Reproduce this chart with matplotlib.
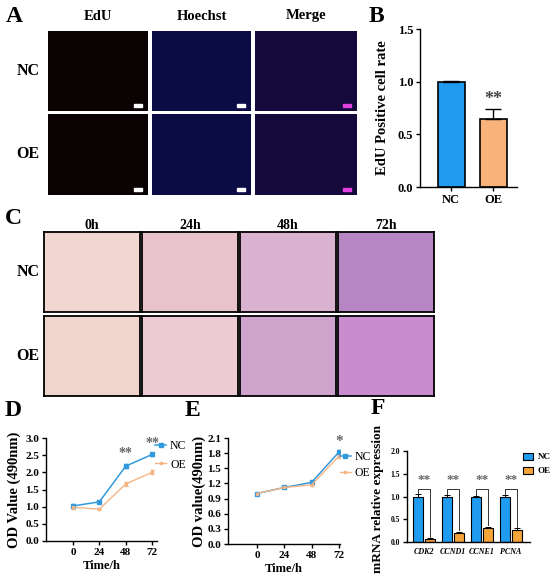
import matplotlib
matplotlib.use("Agg")
import matplotlib.pyplot as plt
from matplotlib.lines import Line2D

plt.rcParams['font.family'] = ['Liberation Serif', 'DejaVu Serif']
plt.rcParams['font.weight'] = 'bold'

W, H = 550, 578

# ---- data ----
edu_groups = ["NC", "OE"]
edu_rate = [1.0, 0.65]
edu_err = [0.01, 0.09]

time_h = [0, 24, 48, 72]
od_d_nc = [1.02, 1.14, 2.18, 2.52]
od_d_nc_err = [0.06, 0.02, 0.06, 0.04]
od_d_oe = [0.98, 0.93, 1.66, 2.00]
od_d_oe_err = [0.05, 0.02, 0.06, 0.06]

od_e_nc = [1.00, 1.12, 1.22, 1.82]
od_e_nc_err = [0.01, 0.02, 0.03, 0.04]
od_e_oe = [1.00, 1.12, 1.17, 1.74]
od_e_oe_err = [0.01, 0.02, 0.03, 0.03]

genes = ["CDK2", "CCND1", "CCNE1", "PCNA"]
mrna_nc = [1.0, 1.0, 1.0, 1.0]
mrna_nc_err = [0.06, 0.04, 0.02, 0.04]
mrna_oe = [0.07, 0.20, 0.31, 0.27]
mrna_oe_err = [0.01, 0.02, 0.03, 0.03]

stain_cols = ["EdU", "Hoechst", "Merge"]
stain_colors = ["#0b0303", "#0c0c45", "#160a3c"]
stain_bar = ["white", "white", "#e040e0"]
crystal_cols = ["0h", "24h", "48h", "72h"]
crystal_colors = [["#f1d6d2", "#e8c3cc", "#d9b2cf", "#b686c4"],
                  ["#f0d5cf", "#ecccd2", "#cfa4cc", "#c88ccf"]]

BLUE = "#1f9bef"
PEACH = "#f9b27a"
ORANGE = "#f5a43a"
LBLUE = "#3399dd"
LORANGE = "#f6b585"


def px_axes(fig, x0, y0, x1, y1):
    # pixel box (top-left origin) -> figure axes
    return fig.add_axes([x0 / W, 1 - y1 / H, (x1 - x0) / W, (y1 - y0) / H])


def ftext(fig, x, y, s, **kw):
    fig.text(x / W, 1 - y / H, s, ha='center', va='center', **kw)


def style_axes(ax, fs):
    for s in ['top', 'right']:
        ax.spines[s].set_visible(False)
    for s in ['left', 'bottom']:
        ax.spines[s].set_linewidth(1.0)
    ax.tick_params(labelsize=fs, width=1.0, length=3, pad=2)
    for lab in ax.get_xticklabels() + ax.get_yticklabels():
        lab.set_fontweight('bold')


def line_legend(ax, anchor, spacing):
    handles = [Line2D([], [], color=LBLUE, marker='s', markersize=2.5, lw=1.1),
               Line2D([], [], color=LORANGE, marker='s', markersize=2, lw=1.0)]
    leg = ax.legend(handles, edu_groups, loc='upper left', bbox_to_anchor=anchor,
                    frameon=False, fontsize=8.5, handlelength=0.9, handletextpad=0.35,
                    labelspacing=spacing, borderaxespad=0, borderpad=0)
    for t in leg.get_texts():
        t.set_fontweight('normal')


fig = plt.figure(figsize=(W / 100, H / 100), dpi=100)

# ---- A ----
ftext(fig, 14, 16, "A", fontsize=17)
col_x = [(48, 148), (152, 251), (255, 357)]
row_y = [(31, 111), (114, 195)]
for j, (x0, x1) in enumerate(col_x):
    ftext(fig, (x0 + x1) / 2, 16, stain_cols[j], fontsize=10.5)
    for i, (y0, y1) in enumerate(row_y):
        ax = px_axes(fig, x0, y0, x1, y1)
        ax.set_facecolor(stain_colors[j])
        ax.set_xticks([]); ax.set_yticks([])
        for s in ax.spines.values():
            s.set_visible(False)
        ax.add_patch(plt.Rectangle((0.86, 0.05), 0.08, 0.04, transform=ax.transAxes,
                                   color=stain_bar[j]))
for i, (y0, y1) in enumerate(row_y):
    ftext(fig, 28, (y0 + y1) / 2, edu_groups[i], fontsize=11.5)

# ---- B ----
ftext(fig, 376, 16, "B", fontsize=17)
axb = px_axes(fig, 420, 29, 517, 187)
axb.bar([0, 1], edu_rate, width=0.64, color=[BLUE, PEACH], edgecolor='black', linewidth=1.2)
axb.errorbar([0, 1], edu_rate, yerr=[[0, 0], edu_err], fmt='none', ecolor='black',
             elinewidth=1.0, capsize=6, capthick=1.0)
axb.text(1, 0.75, "**", ha='center', va='bottom', fontsize=13, color='#444444')
axb.set_xlim(-0.74, 1.57)
axb.set_ylim(0, 1.5)
axb.set_yticks([0.0, 0.5, 1.0, 1.5])
axb.set_yticklabels(["0.0", "0.5", "1.0", "1.5"])
axb.set_xticks([0, 1])
axb.set_xticklabels(edu_groups)
axb.tick_params(axis='x', length=0, pad=5)
style_axes(axb, 9)
axb.set_ylabel("EdU Positive cell rate", fontsize=10.5, fontweight='bold', labelpad=6)

# ---- C ----
ftext(fig, 13, 218, "C", fontsize=17)
c_cols = [(44, 140), (142, 238), (240, 336), (338, 434)]
c_rows = [(232, 312), (316, 396)]
for j, (x0, x1) in enumerate(c_cols):
    ftext(fig, (x0 + x1) / 2, 225, crystal_cols[j], fontsize=10)
    for i, (y0, y1) in enumerate(c_rows):
        ax = px_axes(fig, x0, y0, x1, y1)
        ax.set_facecolor(crystal_colors[i][j])
        ax.set_xticks([]); ax.set_yticks([])
        for s in ax.spines.values():
            s.set_linewidth(1.3)
for i, (y0, y1) in enumerate(c_rows):
    ftext(fig, 28, (y0 + y1) / 2, edu_groups[i], fontsize=11.5)

# ---- D ----
ftext(fig, 13, 411, "D", fontsize=17)
axd = px_axes(fig, 46, 438, 157, 541)
axd.errorbar(time_h, od_d_nc, yerr=od_d_nc_err, color=LBLUE, marker='s', markersize=2.5,
             lw=1.1, capsize=1.5, elinewidth=0.8)
axd.errorbar(time_h, od_d_oe, yerr=od_d_oe_err, color=LORANGE, marker='s', markersize=2,
             lw=1.0, capsize=1.5, elinewidth=0.8)
axd.text(48, 2.36, "**", ha='center', va='bottom', fontsize=10, color='#666666')
axd.text(72, 2.64, "**", ha='center', va='bottom', fontsize=10, color='#666666')
axd.set_xlim(-24.6, 76.5)
axd.set_ylim(0, 3.0)
axd.set_xticks(time_h)
axd.set_yticks([0, 0.5, 1.0, 1.5, 2.0, 2.5, 3.0])
axd.set_yticklabels(["0.0", "0.5", "1.0", "1.5", "2.0", "2.5", "3.0"])
style_axes(axd, 8)
axd.set_xlabel("Time/h", fontsize=9, fontweight='bold', labelpad=2)
axd.set_ylabel("OD Value (490nm)", fontsize=10.5, fontweight='bold', labelpad=3)
line_legend(axd, (0.985, 0.98), 0.55)

# ---- E ----
ftext(fig, 192, 411, "E", fontsize=17)
axe = px_axes(fig, 228, 438, 340, 544)
axe.errorbar(time_h, od_e_nc, yerr=od_e_nc_err, color=LBLUE, marker='s', markersize=2.5,
             lw=1.1, capsize=1.5, elinewidth=0.8)
axe.errorbar(time_h, od_e_oe, yerr=od_e_oe_err, color=LORANGE, marker='s', markersize=2,
             lw=1.0, capsize=1.5, elinewidth=0.8)
axe.text(72, 1.9, "*", ha='center', va='bottom', fontsize=11, color='#666666')
axe.set_xlim(-25.5, 73)
axe.set_ylim(0, 2.1)
axe.set_xticks(time_h)
axe.set_yticks([0, 0.3, 0.6, 0.9, 1.2, 1.5, 1.8, 2.1])
axe.set_yticklabels(["0.0", "0.3", "0.6", "0.9", "1.2", "1.5", "1.8", "2.1"])
style_axes(axe, 8)
axe.set_xlabel("Time/h", fontsize=9, fontweight='bold', labelpad=2)
axe.set_ylabel("OD value(490nm)", fontsize=10.5, fontweight='bold', labelpad=1)
line_legend(axe, (1.0, 0.88), 0.35)

# ---- F ----
ftext(fig, 378, 408, "F", fontsize=17)
axf = px_axes(fig, 407, 451, 530, 542)
gx = list(range(len(genes)))
off, bw = 0.21, 0.34
nc_x = [g - off for g in gx]
oe_x = [g + off for g in gx]
axf.bar(nc_x, mrna_nc, width=bw, color=BLUE, edgecolor='black', linewidth=0.8, label="NC")
axf.bar(oe_x, mrna_oe, width=bw, color=ORANGE, edgecolor='black', linewidth=0.8, label="OE")
axf.errorbar(nc_x, mrna_nc, yerr=[[0] * 4, mrna_nc_err], fmt='none', ecolor='black',
             elinewidth=0.7, capsize=2, capthick=0.7)
axf.errorbar(oe_x, mrna_oe, yerr=[[0] * 4, mrna_oe_err], fmt='none', ecolor='black',
             elinewidth=0.7, capsize=2, capthick=0.7)
for g in gx:
    top = 1.17
    axf.plot([nc_x[g], nc_x[g], oe_x[g], oe_x[g]],
             [mrna_nc[g] + mrna_nc_err[g] + 0.02, top, top, mrna_oe[g] + mrna_oe_err[g] + 0.04],
             color='#333333', lw=0.7)
    axf.text(g, 1.24, "**", ha='center', va='bottom', fontsize=9.5, color='#666666')
axf.set_xlim(-0.59, 3.66)
axf.set_ylim(0, 2.0)
axf.set_yticks([0, 0.5, 1.0, 1.5, 2.0])
axf.set_yticklabels(["0.0", "0.5", "1.0", "1.5", "2.0"])
axf.set_xticks(gx)
axf.set_xticklabels(genes)
style_axes(axf, 5.5)
axf.tick_params(axis='x', length=0, labelsize=5.8, pad=4)
for lab in axf.get_xticklabels():
    lab.set_fontstyle('italic')
axf.set_ylabel("mRNA relative expression", fontsize=9.5, fontweight='bold')
axf.yaxis.set_label_coords(-0.19, 0.47)
leg = axf.legend(loc='upper right', bbox_to_anchor=(1.2, 1.02), frameon=False, fontsize=6.5,
                 handlelength=1.2, handleheight=0.8, handletextpad=0.5, labelspacing=0.6,
                 borderaxespad=0)

fig.savefig("out.png", dpi=100)
